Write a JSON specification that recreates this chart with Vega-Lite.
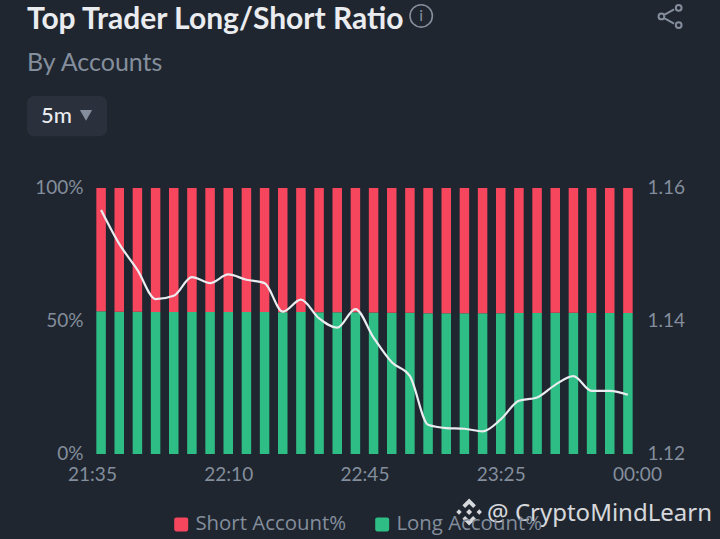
{
  "$schema": "https://vega.github.io/schema/vega-lite/v6.json",
  "width": 545,
  "height": 266,
  "autosize": "none",
  "padding": {"left": 92, "top": 188, "right": 83, "bottom": 85},
  "background": "#1f2630",
  "title": {
    "text": "Top Trader Long/Short Ratio",
    "subtitle": "By Accounts",
    "anchor": "start",
    "frame": "group",
    "dx": -65,
    "offset": -75,
    "font": "Lato",
    "fontWeight": "bold",
    "fontSize": 30,
    "color": "#eaecef",
    "subtitleFont": "Lato",
    "subtitleFontSize": 25,
    "subtitleColor": "#848e9c",
    "subtitlePadding": 16
  },
  "data": {
    "values": [
      {"time": "2024-01-01T21:35:00Z", "Long Account%": 53.63, "Short Account%": 46.37, "ratio": 1.1567},
      {"time": "2024-01-01T21:40:00Z", "Long Account%": 53.52, "Short Account%": 46.48, "ratio": 1.1516},
      {"time": "2024-01-01T21:45:00Z", "Long Account%": 53.44, "Short Account%": 46.56, "ratio": 1.1477},
      {"time": "2024-01-01T21:50:00Z", "Long Account%": 53.34, "Short Account%": 46.66, "ratio": 1.1433},
      {"time": "2024-01-01T21:55:00Z", "Long Account%": 53.36, "Short Account%": 46.64, "ratio": 1.1438},
      {"time": "2024-01-01T22:00:00Z", "Long Account%": 53.42, "Short Account%": 46.58, "ratio": 1.1466},
      {"time": "2024-01-01T22:05:00Z", "Long Account%": 53.40, "Short Account%": 46.60, "ratio": 1.1457},
      {"time": "2024-01-01T22:10:00Z", "Long Account%": 53.43, "Short Account%": 46.57, "ratio": 1.1470},
      {"time": "2024-01-01T22:15:00Z", "Long Account%": 53.41, "Short Account%": 46.59, "ratio": 1.1462},
      {"time": "2024-01-01T22:20:00Z", "Long Account%": 53.40, "Short Account%": 46.60, "ratio": 1.1457},
      {"time": "2024-01-01T22:25:00Z", "Long Account%": 53.30, "Short Account%": 46.70, "ratio": 1.1414},
      {"time": "2024-01-01T22:30:00Z", "Long Account%": 53.34, "Short Account%": 46.66, "ratio": 1.1432},
      {"time": "2024-01-01T22:35:00Z", "Long Account%": 53.28, "Short Account%": 46.72, "ratio": 1.1404},
      {"time": "2024-01-01T22:40:00Z", "Long Account%": 53.25, "Short Account%": 46.75, "ratio": 1.1390},
      {"time": "2024-01-01T22:45:00Z", "Long Account%": 53.31, "Short Account%": 46.69, "ratio": 1.1418},
      {"time": "2024-01-01T22:50:00Z", "Long Account%": 53.22, "Short Account%": 46.78, "ratio": 1.1375},
      {"time": "2024-01-01T22:55:00Z", "Long Account%": 53.14, "Short Account%": 46.86, "ratio": 1.1338},
      {"time": "2024-01-01T23:00:00Z", "Long Account%": 53.09, "Short Account%": 46.91, "ratio": 1.1317},
      {"time": "2024-01-01T23:05:00Z", "Long Account%": 52.93, "Short Account%": 47.07, "ratio": 1.1244},
      {"time": "2024-01-01T23:10:00Z", "Long Account%": 52.92, "Short Account%": 47.08, "ratio": 1.1239},
      {"time": "2024-01-01T23:15:00Z", "Long Account%": 52.91, "Short Account%": 47.09, "ratio": 1.1238},
      {"time": "2024-01-01T23:20:00Z", "Long Account%": 52.90, "Short Account%": 47.10, "ratio": 1.1234},
      {"time": "2024-01-01T23:25:00Z", "Long Account%": 52.94, "Short Account%": 47.06, "ratio": 1.1252},
      {"time": "2024-01-01T23:30:00Z", "Long Account%": 53.01, "Short Account%": 46.99, "ratio": 1.1280},
      {"time": "2024-01-01T23:35:00Z", "Long Account%": 53.02, "Short Account%": 46.98, "ratio": 1.1285},
      {"time": "2024-01-01T23:40:00Z", "Long Account%": 53.06, "Short Account%": 46.94, "ratio": 1.1304},
      {"time": "2024-01-01T23:45:00Z", "Long Account%": 53.09, "Short Account%": 46.91, "ratio": 1.1317},
      {"time": "2024-01-01T23:50:00Z", "Long Account%": 53.04, "Short Account%": 46.96, "ratio": 1.1295},
      {"time": "2024-01-01T23:55:00Z", "Long Account%": 53.04, "Short Account%": 46.96, "ratio": 1.1295},
      {"time": "2024-01-02T00:00:00Z", "Long Account%": 53.03, "Short Account%": 46.97, "ratio": 1.1289}
    ]
  },
  "layer": [
    {
      "transform": [{"fold": ["Long Account%", "Short Account%"], "as": ["series", "share"]}],
      "mark": {"type": "bar", "size": 9.5},
      "encoding": {
        "x": {
          "field": "time",
          "type": "temporal",
          "scale": {"type": "utc", "domain": [1704144750000, 1704153750000], "padding": 0},
          "axis": {
            "values": [1704144750000, 1704147000000, 1704149250000, 1704151500000, 1704153750000],
            "format": "%H:%M",
            "labelExpr": "datum.label == '21:32' ? '21:35' : datum.label == '22:47' ? '22:45' : datum.label == '00:02' ? '00:00' : datum.label",
            "title": null,
            "labelPadding": 11,
            "labelFlush": false
          }
        },
        "y": {
          "field": "share",
          "type": "quantitative",
          "stack": "zero",
          "scale": {"domain": [0, 100]},
          "axis": {"values": [0, 50, 100], "labelExpr": "datum.value + '%'", "title": null, "labelPadding": 9, "labelOffset": -1}
        },
        "order": {"field": "series", "sort": "ascending"},
        "color": {
          "field": "series",
          "type": "nominal",
          "scale": {"domain": ["Short Account%", "Long Account%"], "range": ["#f6465d", "#2ebd85"]},
          "legend": {
            "title": null,
            "orient": "none",
            "direction": "horizontal",
            "legendX": 79,
            "legendY": 326,
            "symbolType": "M-0.7,-1H0.7A0.3,0.3 0 0 1 1,-0.7V0.7A0.3,0.3 0 0 1 0.7,1H-0.7A0.3,0.3 0 0 1 -1,0.7V-0.7A0.3,0.3 0 0 1 -0.7,-1Z",
            "symbolSize": 196,
            "symbolStrokeWidth": 0,
            "symbolOpacity": 1,
            "labelFont": "Open Sans",
            "labelFontSize": 20.4,
            "labelColor": "#848e9c",
            "labelOffset": 4,
            "columnPadding": 25
          }
        }
      }
    },
    {
      "mark": {"type": "line", "interpolate": "monotone", "stroke": "#eaecef", "strokeWidth": 2.2},
      "encoding": {
        "x": {"field": "time", "type": "temporal", "scale": {"type": "utc", "domain": [1704144750000, 1704153750000], "padding": 0}},
        "y": {
          "field": "ratio",
          "type": "quantitative",
          "scale": {"domain": [1.12, 1.16]},
          "axis": {"orient": "right", "values": [1.12, 1.14, 1.16], "format": ".2f", "title": null, "labelPadding": 10, "labelOffset": -1}
        }
      }
    },
    {
      "data": {"values": [{"control": "timeframe"}]},
      "mark": {"type": "rect", "fill": "#2a303c", "cornerRadius": 7},
      "encoding": {
        "x": {"datum": 1704143677000, "type": "temporal", "scale": {"type": "utc", "domain": [1704144750000, 1704153750000], "padding": 0}},
        "x2": {"datum": 1704144998000},
        "y": {"datum": 119.5, "type": "quantitative", "scale": {"domain": [0, 100]}, "axis": null},
        "y2": {"datum": 134.6}
      }
    },
    {
      "data": {"values": [{"label": "5m"}]},
      "mark": {"type": "text", "align": "left", "baseline": "middle", "font": "Lato", "fontSize": 22, "fontWeight": 500, "fill": "#eaecef"},
      "encoding": {
        "text": {"field": "label"},
        "x": {"datum": 1704143908000, "type": "temporal", "scale": {"type": "utc", "domain": [1704144750000, 1704153750000], "padding": 0}},
        "y": {"datum": 127, "type": "quantitative", "scale": {"domain": [0, 100]}, "axis": null}
      }
    },
    {
      "data": {"values": [{"control": "dropdown"}]},
      "mark": {"type": "point", "shape": "triangle-down", "filled": true, "size": 150, "fill": "#848e9c", "opacity": 1},
      "encoding": {
        "x": {"datum": 1704144651000, "type": "temporal", "scale": {"type": "utc", "domain": [1704144750000, 1704153750000], "padding": 0}},
        "y": {"datum": 127.3, "type": "quantitative", "scale": {"domain": [0, 100]}, "axis": null}
      }
    },
    {
      "data": {"values": [{"control": "info"}]},
      "mark": {"type": "point", "shape": "circle", "filled": false, "size": 500, "stroke": "#848e9c", "strokeWidth": 1.6, "opacity": 1},
      "encoding": {
        "x": {"datum": 1704150186000, "type": "temporal", "scale": {"type": "utc", "domain": [1704144750000, 1704153750000], "padding": 0}},
        "y": {"datum": 164.7, "type": "quantitative", "scale": {"domain": [0, 100]}, "axis": null}
      }
    },
    {
      "data": {"values": [{"label": "i"}]},
      "mark": {"type": "text", "align": "center", "baseline": "middle", "font": "Lato", "fontSize": 16, "fill": "#848e9c"},
      "encoding": {
        "text": {"field": "label"},
        "x": {"datum": 1704150186000, "type": "temporal", "scale": {"type": "utc", "domain": [1704144750000, 1704153750000], "padding": 0}},
        "y": {"datum": 164.7, "type": "quantitative", "scale": {"domain": [0, 100]}, "axis": null}
      }
    },
    {
      "data": {"values": [{"control": "share"}]},
      "mark": {
        "type": "point",
        "shape": "M-0.55,-0.12L0.35,-0.62M-0.55,0.12L0.35,0.62M-0.5,0A0.25,0.25 0 1 1 -1,0A0.25,0.25 0 1 1 -0.5,0ZM1,-0.75A0.25,0.25 0 1 1 0.5,-0.75A0.25,0.25 0 1 1 1,-0.75ZM1,0.75A0.25,0.25 0 1 1 0.5,0.75A0.25,0.25 0 1 1 1,0.75Z",
        "filled": false,
        "size": 529,
        "stroke": "#848e9c",
        "strokeWidth": 2,
        "opacity": 1
      },
      "encoding": {
        "x": {"datum": 1704154296000, "type": "temporal", "scale": {"type": "utc", "domain": [1704144750000, 1704153750000], "padding": 0}},
        "y": {"datum": 164.5, "type": "quantitative", "scale": {"domain": [0, 100]}, "axis": null}
      }
    },
    {
      "data": {"values": [{"label": "@ CryptoMindLearn"}]},
      "mark": {"type": "text", "align": "left", "baseline": "middle", "font": "Noto Sans", "fontSize": 24, "fill": "#eaecef", "opacity": 0.9},
      "encoding": {
        "text": {"field": "label"},
        "x": {"datum": 1704151274000, "type": "temporal", "scale": {"type": "utc", "domain": [1704144750000, 1704153750000], "padding": 0}},
        "y": {"datum": -22.4, "type": "quantitative", "scale": {"domain": [0, 100]}, "axis": null}
      }
    },
    {
      "data": {"values": [{"control": "watermark logo"}]},
      "mark": {
        "type": "point",
        "shape": "M0,-1L0.5,-0.5L0.3,-0.3L0,-0.6L-0.3,-0.3L-0.5,-0.5ZM0,1L0.5,0.5L0.3,0.3L0,0.6L-0.3,0.3L-0.5,0.5ZM0,-0.22L0.22,0L0,0.22L-0.22,0ZM-0.75,-0.2L-0.55,0L-0.75,0.2L-0.95,0ZM0.75,-0.2L0.95,0L0.75,0.2L0.55,0Z",
        "filled": true,
        "size": 729,
        "fill": "#eaecef",
        "opacity": 0.9
      },
      "encoding": {
        "x": {"datum": 1704150978000, "type": "temporal", "scale": {"type": "utc", "domain": [1704144750000, 1704153750000], "padding": 0}},
        "y": {"datum": -21.8, "type": "quantitative", "scale": {"domain": [0, 100]}, "axis": null}
      }
    }
  ],
  "resolve": {"scale": {"y": "independent", "color": "independent"}, "axis": {"y": "independent"}},
  "config": {
    "view": {"stroke": null},
    "axis": {
      "grid": false,
      "domain": false,
      "ticks": false,
      "labelFont": "Lato",
      "labelFontSize": 19,
      "labelColor": "#848e9c"
    }
  }
}
